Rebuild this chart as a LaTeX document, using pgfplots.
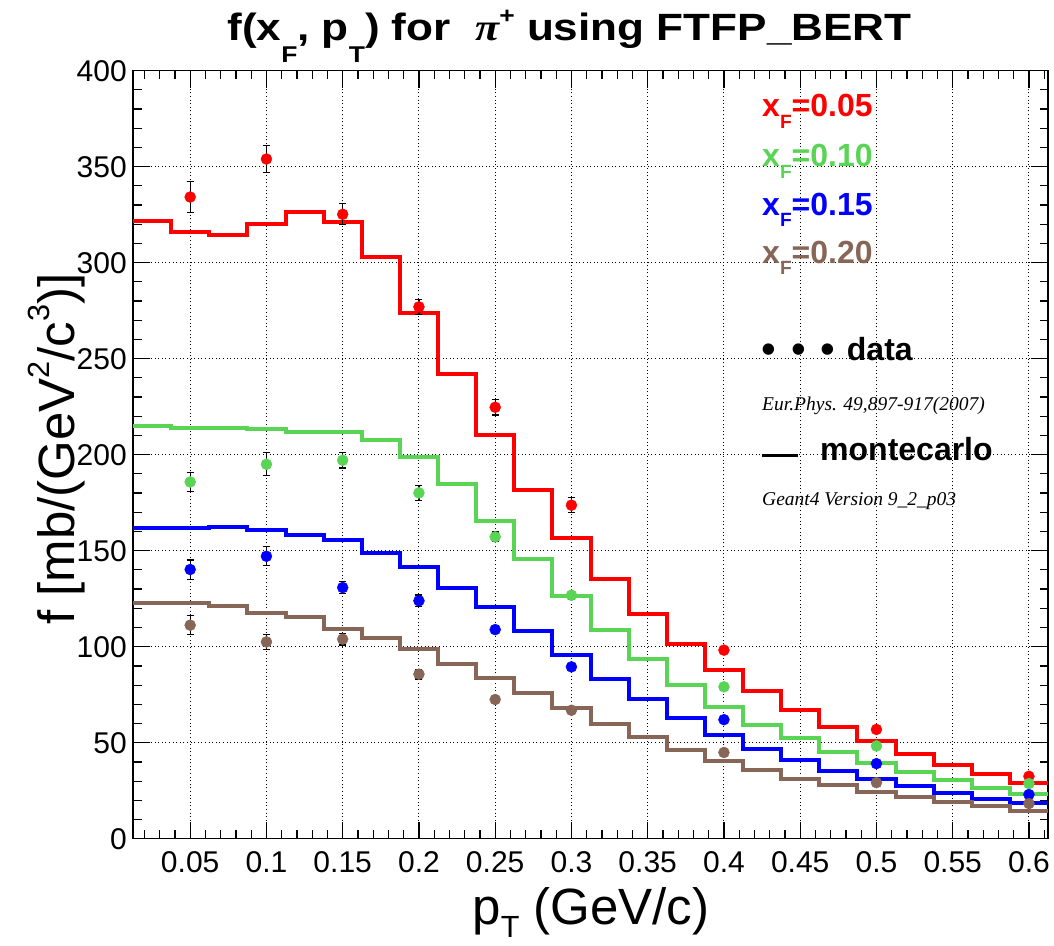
\documentclass[border=0pt]{standalone}
\usepackage{fontspec}
\setmainfont{Liberation Sans}
\newfontfamily\serifit{Liberation Serif}
\usepackage{graphicx}
\usepackage{pgfplots}
\pgfplotsset{compat=1.18}
\definecolor{rootred}{RGB}{255,0,0}
\definecolor{rootgreen}{RGB}{89,212,84}
\definecolor{rootblue}{RGB}{0,0,255}
\definecolor{rootbrown}{RGB}{135,102,87}
\newcommand{\lsub}[2]{\raisebox{-#1}{\scalebox{0.6}{#2}}}
\newcommand{\lsup}[2]{\raisebox{#1}{\scalebox{0.6}{#2}}}
\pgfplotsset{
  hist/.style={const plot, no marks, line width=4pt, line join=miter},
  pts/.style={only marks, mark=*, mark size=5.5pt,
    mark options={draw=#1, fill=#1},
    error bars/.cd, y dir=both, y explicit,
    error bar style={black, line width=1.2pt},
    error mark options={rotate=90, black, mark size=3.5pt, line width=1.2pt}},
}
\begin{document}
\begin{tikzpicture}
\useasboundingbox (-133pt,-106.5pt) rectangle (921pt,838.7pt);
\begin{axis}[
  at={(0pt,0pt)}, anchor=south west,
  scale only axis, width=915pt, height=768pt,
  xmin=0.0125, xmax=0.6125, ymin=0, ymax=400,
  xtick={0.05,0.1,0.15,0.2,0.25,0.3,0.35,0.4,0.45,0.5,0.55,0.6},
  xticklabels={0.05,0.1,0.15,0.2,0.25,0.3,0.35,0.4,0.45,0.5,0.55,0.6},
  minor xtick={0.02,0.03,0.04,0.06,0.07,0.08,0.09,0.11,0.12,0.13,0.14,0.16,0.17,0.18,0.19,0.21,0.22,0.23,0.24,0.26,0.27,0.28,0.29,0.31,0.32,0.33,0.34,0.36,0.37,0.38,0.39,0.41,0.42,0.43,0.44,0.46,0.47,0.48,0.49,0.51,0.52,0.53,0.54,0.56,0.57,0.58,0.59,0.61},
  ytick={0,50,100,150,200,250,300,350,400},
  minor ytick={10,20,30,40,60,70,80,90,110,120,130,140,160,170,180,190,210,220,230,240,260,270,280,290,310,320,330,340,360,370,380,390},
  tick align=inside,
  major tick length=17pt, minor tick length=8.5pt,
  tick style={black, line width=1.2pt},
  axis line style={black, line width=1.5pt},
  grid=major,
  grid style={black, line width=0.9pt, dash pattern=on 1pt off 2.6pt},
  /pgf/number format/assume math mode=true,
  xticklabel style={font=\fontsize{30}{30}\selectfont, inner sep=0pt, yshift=-12.5pt},
  yticklabel style={font=\fontsize{30}{30}\selectfont, inner sep=0pt, xshift=-6pt},
]
% ---------------- Monte Carlo histograms ----------------
\addplot[hist, rootred] table {
x y
0.0125 321.6
0.0375 316.0
0.0625 314.3
0.0875 320.0
0.1125 326.2
0.1375 321.2
0.1625 303.0
0.1875 274.0
0.2125 242.2
0.2375 210.5
0.2625 181.5
0.2875 156.7
0.3125 135.0
0.3375 117.0
0.3625 101.6
0.3875 87.7
0.4125 76.8
0.4375 66.9
0.4625 58.1
0.4875 50.9
0.5125 44.3
0.5375 38.2
0.5625 33.9
0.5875 29.2
0.6125 29.2
};
\addplot[hist, rootgreen] table {
x y
0.0125 214.8
0.0375 213.8
0.0625 213.8
0.0875 213.6
0.1125 211.9
0.1375 211.9
0.1625 207.9
0.1875 198.7
0.2125 184.6
0.2375 165.5
0.2625 145.9
0.2875 126.4
0.3125 108.8
0.3375 93.5
0.3625 80.3
0.3875 68.6
0.4125 59.4
0.4375 52.5
0.4625 45.2
0.4875 39.5
0.5125 34.5
0.5375 30.5
0.5625 26.5
0.5875 23.5
0.6125 23.5
};
\addplot[hist, rootblue] table {
x y
0.0125 161.7
0.0375 161.7
0.0625 162.4
0.0875 160.7
0.1125 158.1
0.1375 155.5
0.1625 148.8
0.1875 141.5
0.2125 130.8
0.2375 120.7
0.2625 108.1
0.2875 95.6
0.3125 83.4
0.3375 72.6
0.3625 62.9
0.3875 54.2
0.4125 46.8
0.4375 41.0
0.4625 35.5
0.4875 31.0
0.5125 27.3
0.5375 24.0
0.5625 20.6
0.5875 18.8
0.6125 18.8
};
\addplot[hist, rootbrown] table {
x y
0.0125 122.5
0.0375 122.5
0.0625 121.1
0.0875 117.8
0.1125 115.5
0.1375 109.4
0.1625 104.6
0.1875 98.7
0.2125 90.9
0.2375 83.5
0.2625 75.8
0.2875 68.1
0.3125 60.0
0.3375 53.0
0.3625 46.4
0.3875 40.3
0.4125 35.7
0.4375 31.3
0.4625 27.8
0.4875 24.4
0.5125 21.8
0.5375 19.2
0.5625 16.9
0.5875 14.3
0.6125 14.3
};
% ---------------- data points ----------------
\addplot[pts=rootred] table[y error=e] {
x y e
0.05 334.2 8
0.10 354.0 7
0.15 325.2 5.5
0.20 277.0 4
0.25 224.7 4
0.30 173.7 4
0.40 98.2 1.5
0.50 56.9 1.5
0.60 32.5 1
};
\addplot[pts=rootgreen] table[y error=e] {
x y e
0.05 185.8 5
0.10 195.0 6
0.15 197.1 4
0.20 180.1 4
0.25 157.2 2.5
0.30 126.8 2
0.40 79.1 1
0.50 48.3 1
0.60 28.7 1
};
\addplot[pts=rootblue] table[y error=e] {
x y e
0.05 140.2 5
0.10 147.1 5
0.15 130.8 3
0.20 123.9 3
0.25 108.9 2
0.30 89.5 1.5
0.40 62.0 1
0.50 39.1 1
0.60 23.0 1
};
\addplot[pts=rootbrown] table[y error=e] {
x y e
0.05 111.2 5
0.10 102.5 4
0.15 103.9 3
0.20 85.7 2.5
0.25 72.5 1.5
0.30 66.9 1
0.40 44.9 1
0.50 29.2 1
0.60 18.3 1
};
\end{axis}
% ---------------- titles ----------------
\node[anchor=base, inner sep=0pt, font=\fontsize{38}{38}\selectfont\bfseries] at (436.5pt,798.5pt)
  {\scalebox{1.16}[1]{f(x\lsub{0.6em}{F}, p\lsub{0.6em}{T}) for\ \ {\serifit\itshape π}\lsup{0.45em}{+} using FTFP\_BERT}};
\node[anchor=base, inner sep=0pt, font=\fontsize{51}{51}\selectfont] at (458pt,-86pt)
  {p\lsub{0.26em}{T} (GeV/c)};
\node[anchor=base, inner sep=0pt, rotate=90, font=\fontsize{51}{51}\selectfont] at (-58pt,389.5pt)
  {f [mb/(GeV\lsup{0.5em}{2}/c\lsup{0.5em}{3})]};
% ---------------- legend texts ----------------
\node[anchor=base west, inner sep=0pt, text=rootred, font=\fontsize{32}{32}\selectfont\bfseries] at (629pt,721.8pt) {x\lsub{0.35em}{F}=0.05};
\node[anchor=base west, inner sep=0pt, text=rootgreen, font=\fontsize{32}{32}\selectfont\bfseries] at (629pt,671.8pt) {x\lsub{0.35em}{F}=0.10};
\node[anchor=base west, inner sep=0pt, text=rootblue, font=\fontsize{32}{32}\selectfont\bfseries] at (629pt,623.5pt) {x\lsub{0.35em}{F}=0.15};
\node[anchor=base west, inner sep=0pt, text=rootbrown, font=\fontsize{32}{32}\selectfont\bfseries] at (629pt,575.2pt) {x\lsub{0.35em}{F}=0.20};
\node[anchor=base, inner sep=0pt, font=\fontsize{42}{42}\selectfont] at (636pt,475.5pt) {•};
\node[anchor=base, inner sep=0pt, font=\fontsize{42}{42}\selectfont] at (666pt,475.5pt) {•};
\node[anchor=base, inner sep=0pt, font=\fontsize{42}{42}\selectfont] at (695pt,475.5pt) {•};
\node[anchor=base west, inner sep=0pt, font=\fontsize{32}{32}\selectfont\bfseries] at (713.7pt,478.5pt) {data};
\node[anchor=base west, inner sep=0pt, font=\fontsize{19.5}{19.5}\selectfont\serifit\itshape] at (629pt,428.5pt) {Eur.Phys. 49,897-917(2007)};
\node[anchor=base west, inner sep=0pt] at (629pt,382pt) {\rule{36pt}{3pt}};
\node[anchor=base west, inner sep=0pt, font=\fontsize{32}{32}\selectfont\bfseries] at (687pt,378.5pt) {montecarlo};
\node[anchor=base west, inner sep=0pt, font=\fontsize{19.5}{19.5}\selectfont\serifit\itshape] at (629pt,333.5pt) {Geant4 Version 9\_2\_p03};
\end{tikzpicture}
\end{document}
